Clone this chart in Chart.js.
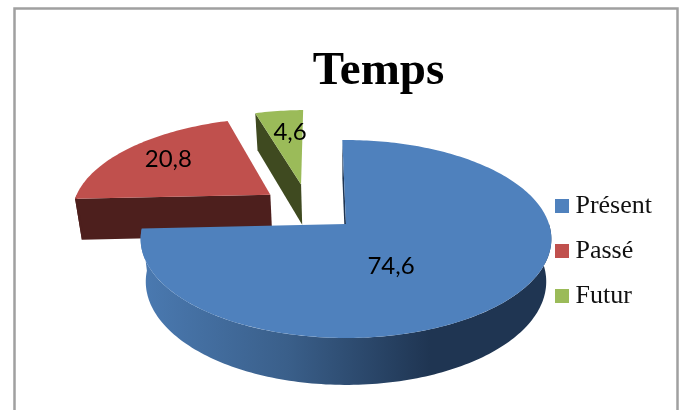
<!DOCTYPE html>
<html>
<head>
<meta charset="utf-8">
<title>Temps</title>
<script src="https://cdn.jsdelivr.net/npm/chart.js@4/dist/chart.umd.min.js"></script>
<style>
    body { margin: 0; background: #fff; }
    canvas { display: block; }
</style>
</head>
<body>
<canvas id="tempsChart" width="686" height="410"></canvas>
<script>
// Data
const categories = ['Présent', 'Passé', 'Futur'];
const values = [74.6, 20.8, 4.6];
const explode = [106, 96, 103];

// Colours
const topColors = ['#4F81BD', '#C0504D', '#9BBB59'];
const wallColors = ['#1F3552', '#4D1F1D', '#3F4A20'];

// Tilted view of the pie, in pixels
const view = { x: 346, y: 224, width: 203, height: 96.7, perspective: 0.1515, depth: 42, baseHeight: 100.9, baseShrink: 0.975 };

// Value label position, relative to the tip of each slice
const labelNudge = [[45, 42], [-102, -35], [-11, -52]];

function project(u, v, isBase) {
    const w = 1 - view.perspective * v;
    if (isBase) {
        return [view.x + view.width * view.baseShrink * u / w, view.y + view.depth + view.baseHeight * v / w];
    }
    return [view.x + view.width * u / w, view.y + view.height * v / w];
}

function tracePath(ctx, points) {
    ctx.beginPath();
    points.forEach((p, i) => (i ? ctx.lineTo(p[0], p[1]) : ctx.moveTo(p[0], p[1])));
    ctx.closePath();
}

function sweep(from, to) {
    const steps = Math.max(2, Math.ceil((to - from) / 0.02));
    const angles = [];
    for (let i = 0; i <= steps; i++) angles.push(from + (to - from) * i / steps);
    return angles;
}

function blueWallFill(ctx) {
    const gradient = ctx.createLinearGradient(145, 0, 430, 0);
    gradient.addColorStop(0, '#4A79B0');
    gradient.addColorStop(0.5, '#3A5F8A');
    gradient.addColorStop(1, wallColors[0]);
    return gradient;
}

// Draws the arcs the doughnut controller laid out as extruded slices
const pie3d = {
    id: 'pie3d',
    beforeDraw(chart) {
        const ctx = chart.ctx;
        ctx.save();
        ctx.strokeStyle = '#A0A0A0';
        ctx.lineWidth = 2.5;
        ctx.strokeRect(14.5, 8.5, 663, 500);
        ctx.restore();
    },
    beforeDatasetsDraw(chart) {
        const ctx = chart.ctx;
        const arcs = chart.getDatasetMeta(0).data;

        const shifts = arcs.map(arc => {
            const mid = (arc.startAngle + arc.endAngle) / 2;
            const dist = arc.options.offset / 4 / arc.outerRadius;
            return [Math.cos(mid) * dist, Math.sin(mid) * dist];
        });
        // The tip of the first slice is the origin of the view
        const origin = shifts[0];

        ctx.save();
        for (let i = arcs.length - 1; i >= 0; i--) {
            const arc = arcs[i];
            const tipU = shifts[i][0] - origin[0];
            const tipV = shifts[i][1] - origin[1];
            const rim = (a, isBase) => project(tipU + Math.cos(a), tipV + Math.sin(a), isBase);
            const tip = isBase => project(tipU, tipV, isBase);
            const wallFill = i === 0 ? blueWallFill(ctx) : wallColors[i];

            // Flat cut faces, only the ones turned towards the viewer
            ctx.fillStyle = wallColors[i];
            if (Math.cos(arc.startAngle) < 0) {
                tracePath(ctx, [tip(false), rim(arc.startAngle, false), rim(arc.startAngle, true), tip(true)]);
                ctx.fill();
            }
            if (Math.cos(arc.endAngle) > 0) {
                tracePath(ctx, [tip(false), rim(arc.endAngle, false), rim(arc.endAngle, true), tip(true)]);
                ctx.fill();
            }

            // Curved side, near half only
            const from = Math.max(arc.startAngle, 0);
            const to = Math.min(arc.endAngle, Math.PI);
            if (from < to) {
                const angles = sweep(from, to);
                const upper = angles.map(a => rim(a, false));
                const lower = angles.map(a => rim(a, true)).reverse();
                tracePath(ctx, upper.concat(lower));
                ctx.fillStyle = wallFill;
                ctx.fill();
            }

            // Top face
            const face = [tip(false)].concat(sweep(arc.startAngle, arc.endAngle).map(a => rim(a, false)));
            tracePath(ctx, face);
            ctx.fillStyle = arc.options.backgroundColor;
            ctx.fill();
        }

        // Value labels
        ctx.fillStyle = '#000';
        ctx.font = '24px Lato';
        ctx.textAlign = 'center';
        ctx.textBaseline = 'middle';
        arcs.forEach((arc, i) => {
            const p = project(shifts[i][0] - origin[0], shifts[i][1] - origin[1], false);
            const text = String(values[i]).replace('.', ',');
            ctx.fillText(text, p[0] + labelNudge[i][0], p[1] + labelNudge[i][1]);
        });
        ctx.restore();
        return false;
    }
};

function legendSwatch(color) {
    const swatch = document.createElement('canvas');
    swatch.width = 14;
    swatch.height = 14;
    const swatchCtx = swatch.getContext('2d');
    swatchCtx.fillStyle = color;
    swatchCtx.fillRect(0, 0, 14, 14);
    return swatch;
}

new Chart(document.getElementById('tempsChart'), {
    type: 'pie',
    plugins: [pie3d],
    data: {
        labels: categories,
        datasets: [{
            data: values,
            backgroundColor: topColors,
            offset: explode,
            borderWidth: 0
        }]
    },
    options: {
        responsive: false,
        animation: false,
        events: [],
        radius: 100,
        rotation: -1.2,
        layout: { padding: { left: 95, right: 24, top: 0, bottom: 82 } },
        plugins: {
            tooltip: { enabled: false },
            title: {
                display: true,
                text: 'Temps',
                color: '#000',
                font: { family: 'Liberation Serif', size: 47, weight: 'bold' },
                padding: { top: 44, bottom: 6 }
            },
            legend: {
                position: 'right',
                align: 'end',
                labels: {
                    usePointStyle: true,
                    pointStyleWidth: 1,
                    padding: 19,
                    color: '#111',
                    font: { family: 'Liberation Serif', size: 26 },
                    generateLabels: chart => chart.data.labels.map((label, i) => ({
                        text: label,
                        fontColor: '#111',
                        pointStyle: legendSwatch(topColors[i]),
                        hidden: false,
                        index: i
                    }))
                }
            }
        }
    }
});
</script>
</body>
</html>
